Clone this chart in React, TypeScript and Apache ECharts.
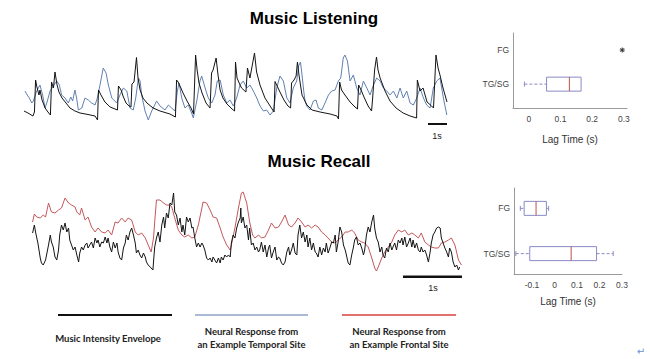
import React, { useEffect, useRef } from "react";
import * as echarts from "echarts";

// ---------- Music Listening (time in s, amplitude in a.u.) ----------
const listeningEnvelope: number[][] = [
  [0, 11], [0.21, 9], [0.47, 6], [0.55, 10], [0.61, 42], [0.68, 35], [0.79, 27], [0.84, 32], [0.95, 22], [1.11, 14],
  [1.26, 10], [1.39, 7], [1.45, 40], [1.55, 34], [1.63, 50], [1.74, 37], [1.84, 30], [2.0, 24], [2.21, 19], [2.42, 14],
  [2.68, 11], [2.95, 9], [3.37, 7.5], [3.74, 6], [3.87, 2], [3.92, 32], [4.05, 27], [4.26, 20], [4.53, 15], [4.79, 13],
  [4.92, 12], [4.97, 36], [5.11, 32], [5.21, 26], [5.37, 19], [5.53, 16], [5.63, 15], [5.68, 38], [5.79, 40], [5.92, 64.5],
  [6.0, 44], [6.11, 32], [6.26, 24], [6.47, 19], [6.79, 14], [7.16, 11], [7.68, 8], [7.97, 5], [8.03, 42], [8.11, 40],
  [8.21, 36], [8.37, 29], [8.58, 21], [8.79, 14], [8.92, 8], [9.03, 67], [9.11, 52], [9.21, 39], [9.37, 29], [9.58, 19],
  [9.79, 14], [9.87, 49], [9.95, 52], [10.11, 64], [10.21, 47], [10.32, 32], [10.47, 24], [10.68, 18], [10.95, 13], [11.08, 11],
  [11.13, 60], [11.21, 44], [11.37, 37], [11.45, 34], [11.68, 30], [11.76, 54], [11.89, 44], [12.13, 69], [12.24, 50], [12.42, 37],
  [12.68, 24], [12.95, 16], [13.16, 10], [13.21, 40.5], [13.32, 36], [13.47, 30], [13.68, 22], [13.89, 16], [14.03, 14], [14.08, 39],
  [14.21, 42], [14.32, 46], [14.39, 60], [14.47, 47], [14.63, 27], [14.89, 17], [15.16, 12], [15.58, 10], [16.11, 8], [16.47, 6],
  [16.55, 3], [16.61, 40], [16.71, 32], [16.89, 27], [17.16, 20], [17.42, 15], [17.55, 13], [17.61, 37], [17.74, 32], [17.89, 25],
  [18.11, 16], [18.29, 11], [18.34, 22], [18.45, 52], [18.55, 65], [18.63, 52], [18.74, 44], [19.0, 31], [19.26, 21], [19.58, 14],
  [19.95, 9], [20.32, 6], [20.66, 4], [20.7, 42], [20.84, 31], [21.0, 34], [21.21, 20], [21.45, 16], [21.55, 14], [21.68, 67],
  [21.79, 54], [21.89, 47], [22.05, 34], [22.26, 20],
];

const listeningTemporal: number[][] = [
  [0.05, 31], [0.17, 27], [0.28, 24], [0.41, 19], [0.49, 21], [0.67, 31], [0.84, 37], [0.98, 27], [1.11, 14], [1.23, 21],
  [1.37, 31], [1.54, 36], [1.72, 41], [1.86, 37], [1.98, 27], [2.16, 24], [2.33, 19], [2.46, 25], [2.56, 21], [2.68, 32],
  [2.77, 24], [2.86, 12], [3.04, 14], [3.21, 24], [3.38, 22], [3.56, 19], [3.74, 17], [3.86, 24], [4.0, 37], [4.17, 54],
  [4.32, 49], [4.44, 37], [4.62, 24], [4.88, 19], [5.05, 27], [5.23, 34], [5.41, 31], [5.58, 14], [5.75, 12], [5.88, 24],
  [6.02, 44], [6.11, 41], [6.19, 27], [6.37, 11], [6.54, 2], [6.72, 11], [6.98, 21], [7.16, 16], [7.42, 12], [7.6, 17],
  [7.77, 14], [7.95, 11], [8.07, 31], [8.16, 39], [8.3, 24], [8.47, 14], [8.65, 17], [8.82, 9], [8.91, 4], [9.09, 21],
  [9.26, 41], [9.35, 46], [9.53, 34], [9.7, 24], [9.88, 19], [10.05, 27], [10.17, 41], [10.32, 42], [10.49, 27], [10.67, 19],
  [10.84, 22], [11.02, 16], [11.19, 24], [11.37, 37], [11.54, 41], [11.72, 34], [11.89, 37], [12.07, 31], [12.25, 24], [12.42, 16],
  [12.6, 11], [12.77, 12], [12.95, 7], [13.12, 11], [13.3, 34], [13.47, 46], [13.65, 41], [13.83, 24], [14.0, 19], [14.17, 34],
  [14.35, 41], [14.45, 56], [14.55, 60], [14.63, 47], [14.72, 31], [14.79, 21], [14.88, 16], [15.05, 12], [15.23, 21], [15.37, 22],
  [15.49, 14], [15.67, 12], [15.84, 19], [16.02, 27], [16.19, 31], [16.37, 32], [16.54, 41], [16.67, 44], [16.8, 64], [16.89, 67],
  [17.02, 61], [17.16, 41], [17.33, 47], [17.51, 34], [17.68, 27], [17.86, 41], [18.04, 34], [18.21, 27], [18.39, 37], [18.56, 44],
  [18.74, 41], [18.91, 34], [19.09, 31], [19.26, 27], [19.44, 31], [19.62, 24], [19.79, 34], [19.96, 24], [20.14, 31], [20.32, 19],
  [20.49, 17], [20.67, 24], [20.84, 34], [21.02, 24], [21.19, 17], [21.37, 14], [21.54, 34], [21.72, 41], [21.89, 44], [22.07, 24],
  [22.25, 7],
];

// ---------- Music Recall (time in s, amplitude in a.u.) ----------
const recallEnvelope: number[][] = [
  [0.01, 40], [0.04, 48], [0.06, 41], [0.1, 30], [0.14, 15], [0.16, 10], [0.19, 8], [0.23, 13], [0.28, 28], [0.31, 38],
  [0.33, 31], [0.36, 26], [0.39, 16], [0.42, 13], [0.45, 23], [0.47, 38], [0.5, 48], [0.53, 43], [0.56, 50], [0.59, 41],
  [0.62, 45], [0.64, 33], [0.67, 28], [0.7, 23], [0.73, 26], [0.76, 18], [0.79, 11], [0.81, 20], [0.84, 26], [0.87, 23],
  [0.9, 28], [0.93, 30], [0.95, 25], [0.98, 28], [1.01, 31], [1.04, 25], [1.07, 35], [1.1, 30], [1.12, 33], [1.15, 26],
  [1.18, 31], [1.21, 30], [1.24, 36], [1.27, 30], [1.29, 35], [1.32, 26], [1.35, 21], [1.38, 31], [1.41, 25], [1.44, 30],
  [1.46, 21], [1.49, 15], [1.52, 13], [1.55, 25], [1.58, 30], [1.6, 38], [1.63, 33], [1.66, 41], [1.69, 45], [1.72, 38],
  [1.75, 30], [1.77, 20], [1.8, 23], [1.83, 18], [1.86, 15], [1.89, 20], [1.92, 16], [1.94, 11], [1.97, 8], [2.02, 5],
  [2.05, 3], [2.06, 11], [2.08, 26], [2.11, 35], [2.14, 41], [2.17, 31], [2.2, 48], [2.23, 56], [2.25, 45], [2.28, 60],
  [2.31, 55], [2.34, 70], [2.37, 68], [2.4, 80], [2.42, 61], [2.45, 58], [2.48, 48], [2.51, 55], [2.54, 41], [2.56, 48],
  [2.59, 38], [2.62, 56], [2.65, 51], [2.68, 55], [2.71, 45], [2.73, 46], [2.76, 35], [2.79, 26], [2.82, 30], [2.85, 26],
  [2.88, 30], [2.9, 28], [2.93, 23], [2.96, 15], [2.99, 13], [3.02, 15], [3.05, 11], [3.07, 16], [3.1, 13], [3.13, 10],
  [3.16, 15], [3.19, 10], [3.21, 16], [3.24, 13], [3.27, 18], [3.3, 16], [3.33, 18], [3.36, 16], [3.38, 30], [3.41, 38],
  [3.44, 35], [3.47, 45], [3.5, 51], [3.53, 55], [3.54, 65], [3.55, 50], [3.58, 56], [3.61, 45], [3.64, 48], [3.67, 33],
  [3.69, 45], [3.72, 28], [3.75, 30], [3.78, 23], [3.81, 26], [3.84, 21], [3.86, 23], [3.89, 31], [3.92, 21], [3.95, 28],
  [3.98, 16], [4.01, 25], [4.03, 28], [4.06, 15], [4.09, 21], [4.12, 26], [4.15, 13], [4.18, 16], [4.2, 15], [4.23, 10],
  [4.26, 8], [4.29, 11], [4.32, 21], [4.35, 26], [4.37, 18], [4.4, 23], [4.43, 30], [4.46, 20], [4.49, 18], [4.51, 38],
  [4.54, 48], [4.57, 35], [4.6, 41], [4.63, 31], [4.66, 38], [4.68, 26], [4.71, 35], [4.74, 23], [4.77, 30], [4.8, 21],
  [4.82, 20], [4.85, 16], [4.88, 26], [4.91, 18], [4.94, 25], [4.97, 21], [4.99, 30], [5.02, 20], [5.05, 25], [5.08, 31],
  [5.11, 30], [5.14, 38], [5.16, 21], [5.19, 31], [5.22, 46], [5.25, 41], [5.28, 28], [5.31, 23], [5.33, 18], [5.36, 10],
  [5.39, 8], [5.42, 18], [5.45, 26], [5.47, 33], [5.5, 36], [5.53, 28], [5.56, 30], [5.59, 25], [5.62, 18], [5.64, 23],
  [5.67, 38], [5.7, 46], [5.73, 41], [5.76, 51], [5.79, 58], [5.81, 45], [5.84, 35], [5.87, 31], [5.9, 21], [5.93, 26],
  [5.95, 18], [5.98, 15], [6.01, 25], [6.04, 21], [6.07, 30], [6.1, 23], [6.12, 26], [6.15, 30], [6.18, 23], [6.21, 33],
  [6.24, 30], [6.27, 35], [6.29, 28], [6.32, 36], [6.35, 26], [6.38, 30], [6.41, 35], [6.44, 26], [6.46, 33], [6.49, 25],
  [6.52, 30], [6.55, 23], [6.58, 21], [6.6, 26], [6.63, 21], [6.66, 23], [6.69, 18], [6.72, 11], [6.75, 21], [6.77, 30],
  [6.8, 38], [6.83, 41], [6.86, 45], [6.89, 46], [6.92, 45], [6.94, 35], [6.97, 30], [7.0, 25], [7.03, 21], [7.06, 16],
  [7.08, 25], [7.11, 21], [7.14, 11], [7.17, 6], [7.2, 8], [7.23, 3], [7.25, 6],
];

const recallFrontal: number[][] = [
  [0.01, 51], [0.04, 59], [0.08, 56], [0.14, 55], [0.19, 58], [0.23, 56], [0.28, 70], [0.33, 61], [0.39, 60], [0.45, 63],
  [0.5, 65], [0.56, 75], [0.62, 70], [0.67, 68], [0.73, 66], [0.76, 61], [0.81, 58], [0.84, 65], [0.9, 53], [0.95, 56],
  [1.01, 46], [1.07, 41], [1.12, 45], [1.18, 41], [1.24, 40], [1.29, 43], [1.35, 38], [1.41, 51], [1.46, 50], [1.52, 55],
  [1.58, 51], [1.63, 55], [1.69, 53], [1.75, 41], [1.8, 38], [1.86, 40], [1.92, 35], [1.97, 28], [2.02, 21], [2.06, 35],
  [2.08, 51], [2.11, 73], [2.17, 73], [2.23, 70], [2.28, 68], [2.34, 68], [2.37, 66], [2.42, 55], [2.48, 43], [2.54, 38],
  [2.59, 36], [2.65, 38], [2.71, 35], [2.76, 36], [2.82, 48], [2.88, 65], [2.9, 71], [2.96, 70], [3.02, 63], [3.07, 56],
  [3.13, 55], [3.19, 45], [3.24, 36], [3.3, 28], [3.36, 23], [3.38, 28], [3.44, 45], [3.5, 65], [3.55, 80], [3.58, 81],
  [3.64, 70], [3.69, 51], [3.74, 38], [3.78, 35], [3.84, 38], [3.89, 35], [3.95, 36], [4.01, 43], [4.06, 50], [4.12, 45],
  [4.18, 46], [4.23, 51], [4.29, 58], [4.35, 48], [4.4, 46], [4.46, 50], [4.51, 55], [4.57, 51], [4.63, 46], [4.68, 48],
  [4.74, 45], [4.8, 48], [4.85, 46], [4.91, 41], [4.97, 38], [5.02, 35], [5.08, 31], [5.14, 30], [5.19, 33], [5.25, 36],
  [5.31, 41], [5.36, 41], [5.42, 43], [5.47, 40], [5.53, 33], [5.59, 31], [5.64, 30], [5.7, 26], [5.76, 15], [5.81, 5],
  [5.84, 2], [5.87, 6], [5.93, 15], [5.98, 21], [6.04, 26], [6.1, 31], [6.15, 38], [6.21, 43], [6.27, 41], [6.32, 43],
  [6.38, 38], [6.44, 40], [6.49, 38], [6.55, 35], [6.6, 40], [6.66, 31], [6.72, 28], [6.77, 26], [6.83, 25], [6.89, 25],
  [6.94, 30], [7.0, 31], [7.06, 33], [7.11, 35], [7.17, 28], [7.23, 13], [7.28, 8],
];

// ---------- Lag time box plots (s): [min, Q1, median, Q3, max] ----------
const boxCategories = ["TG/SG", "FG"];
const listeningTGSG = [-0.014, 0.056, 0.128, 0.165, 0.165];
const listeningFGOutliers = [0.295];
const recallTGSG = [-0.172, -0.11, 0.074, 0.187, 0.261];
const recallFG = [-0.152, -0.135, -0.082, -0.036, -0.026];

const listeningTicks = [0, 0.1, 0.2, 0.3];
const recallTicks = [-0.1, 0, 0.1, 0.2, 0.3];

const listeningDuration = 22.26;
const recallDuration = 7.29;
const scaleBarSeconds = 1;

const legendLabels = [
  ["Music Intensity Envelope"],
  ["Neural Response from", "an Example Temporal Site"],
  ["Neural Response from", "an Example Frontal Site"],
];

const ENVELOPE = "#141414";
const TEMPORAL = "#6080b2";
const FRONTAL = "#c4585a";
const BOX = "#8a8ac4";
const MEDIAN = "#c0504d";
const AXIS = "#9a9a9a";
const FONT = "'Liberation Sans', Arial, sans-serif";

function boxRender(params: any, api: any) {
  const pos = api.value(0);
  const lo = api.value(1), q1 = api.value(2), med = api.value(3), q3 = api.value(4), hi = api.value(5);
  const c = (v: number) => api.coord([v, pos]);
  const y = c(med)[1];
  const h = 7;
  const cap = 2.5;
  const children: any[] = [];
  const dash = { stroke: BOX, lineWidth: 1, lineDash: [3, 2] };
  const solid = { stroke: BOX, lineWidth: 1 };
  if (lo < q1) {
    children.push({ type: "line", shape: { x1: c(lo)[0], y1: y, x2: c(q1)[0], y2: y }, style: dash });
    children.push({ type: "line", shape: { x1: c(lo)[0], y1: y - cap, x2: c(lo)[0], y2: y + cap }, style: solid });
  }
  if (hi > q3) {
    children.push({ type: "line", shape: { x1: c(q3)[0], y1: y, x2: c(hi)[0], y2: y }, style: dash });
    children.push({ type: "line", shape: { x1: c(hi)[0], y1: y - cap, x2: c(hi)[0], y2: y + cap }, style: solid });
  }
  children.push({
    type: "rect",
    shape: { x: c(q1)[0], y: y - h, width: c(q3)[0] - c(q1)[0], height: 2 * h },
    style: { fill: "none", stroke: BOX, lineWidth: 1 },
  });
  children.push({
    type: "line",
    shape: { x1: c(med)[0], y1: y - h, x2: c(med)[0], y2: y + h },
    style: { stroke: MEDIAN, lineWidth: 1 },
  });
  return { type: "group", children };
}

function outlierRender(params: any, api: any) {
  const p = api.coord([api.value(1), api.value(0)]);
  const r = 2.5;
  const st = { stroke: "#333", lineWidth: 1 };
  return {
    type: "group",
    children: [
      { type: "line", shape: { x1: p[0] - r, y1: p[1], x2: p[0] + r, y2: p[1] }, style: st },
      { type: "line", shape: { x1: p[0], y1: p[1] - r, x2: p[0], y2: p[1] + r }, style: st },
      { type: "line", shape: { x1: p[0] - r * 0.75, y1: p[1] - r * 0.75, x2: p[0] + r * 0.75, y2: p[1] + r * 0.75 }, style: st },
      { type: "line", shape: { x1: p[0] - r * 0.75, y1: p[1] + r * 0.75, x2: p[0] + r * 0.75, y2: p[1] - r * 0.75 }, style: st },
    ],
  };
}

function boxXAxis(gridIndex: number, min: number, max: number, ticks: number[], nameGap: number) {
  return {
    type: "value",
    gridIndex,
    min,
    max,
    axisLine: { show: true, onZero: false, lineStyle: { color: AXIS, width: 1 } },
    axisTick: { show: false },
    splitLine: { show: false },
    axisLabel: {
      customValues: ticks,
      formatter: (v: number) => String(Math.round(v * 10) / 10),
      fontSize: 8.5,
      color: "#444",
      fontFamily: FONT,
      margin: 6,
    },
    name: "Lag Time (s)",
    nameLocation: "middle",
    nameGap,
    nameTextStyle: { fontSize: 10, color: "#333", fontFamily: FONT },
  };
}

function boxYAxis(gridIndex: number, min: number, max: number) {
  return {
    type: "value",
    gridIndex,
    min,
    max,
    axisLine: { show: true, onZero: false, lineStyle: { color: AXIS, width: 1 } },
    axisTick: { show: false },
    splitLine: { show: false },
    axisLabel: {
      customValues: [1, 2],
      formatter: (v: number) => boxCategories[Math.round(v) - 1] ?? "",
      fontSize: 8.5,
      color: "#444",
      fontFamily: FONT,
      margin: 4,
    },
  };
}

function traceAxes(gridIndex: number, xMax: number, yMin: number, yMax: number) {
  return {
    x: { type: "value", gridIndex, min: 0, max: xMax, show: false },
    y: { type: "value", gridIndex, min: yMin, max: yMax, show: false },
  };
}

export default function App() {
  const ref = useRef<HTMLDivElement>(null);
  useEffect(() => {
    const chart = echarts.init(ref.current!, null, { renderer: "svg" });
    const topAxes = traceAxes(0, listeningDuration, -18, 72);
    const botAxes = traceAxes(2, recallDuration, -22, 88);

    const lineSeries = (data: number[][], color: string, axis: number, width: number) => ({
      type: "line",
      xAxisIndex: axis,
      yAxisIndex: axis,
      data,
      showSymbol: false,
      symbol: "none",
      lineStyle: { color, width },
      silent: true,
    });

    const legendX = [[58, 172], [195, 308], [342, 456]];
    const legendColors = ["#111", "#8ea3c6", "#d8403c"];
    const legendGraphics: any[] = [];
    legendLabels.forEach((lines, i) => {
      const [x1, x2] = legendX[i];
      legendGraphics.push({
        type: "line",
        shape: { x1, y1: 315, x2, y2: 315 },
        style: { stroke: legendColors[i], lineWidth: i === 0 ? 2.2 : 1.6 },
      });
      const cx = i === 0 ? 108 : (x1 + x2) / 2;
      lines.forEach((txt, j) => {
        const y = lines.length === 1 ? 338 : 331 + j * 13;
        legendGraphics.push({
          type: "text",
          x: cx,
          y,
          style: {
            text: txt,
            fill: "#222",
            font: "bold 9.5px Lato, 'Open Sans', sans-serif",
            textAlign: "center",
            textVerticalAlign: "middle",
          },
        });
      });
    });

    chart.setOption({
      animation: false,
      backgroundColor: "#ffffff",
      grid: [
        { left: 24, top: 50, width: 423, height: 90 },
        { left: 513, top: 33, width: 114, height: 75 },
        { left: 32, top: 185, width: 430, height: 110 },
        { left: 514, top: 188, width: 108, height: 86 },
      ],
      xAxis: [
        topAxes.x,
        boxXAxis(1, -0.05, 0.31, listeningTicks, 26),
        botAxes.x,
        boxXAxis(3, -0.18, 0.3, recallTicks, 22),
      ],
      yAxis: [topAxes.y, boxYAxis(1, 0.3, 2.5), botAxes.y, boxYAxis(3, 0.55, 2.45)],
      series: [
        lineSeries(listeningTemporal, TEMPORAL, 0, 1),
        lineSeries(listeningEnvelope, ENVELOPE, 0, 1),
        lineSeries(
          [
            [listeningDuration - scaleBarSeconds, -2],
            [listeningDuration, -2],
          ],
          "#111",
          0,
          2
        ),
        lineSeries(recallFrontal, FRONTAL, 2, 1),
        lineSeries(recallEnvelope, ENVELOPE, 2, 1),
        lineSeries(
          [
            [recallDuration - scaleBarSeconds, -3.7],
            [recallDuration, -3.7],
          ],
          "#111",
          2,
          2.4
        ),
        {
          type: "custom",
          xAxisIndex: 1,
          yAxisIndex: 1,
          renderItem: boxRender,
          encode: { x: [1, 2, 3, 4, 5], y: 0 },
          data: [[1, ...listeningTGSG]],
          silent: true,
        },
        {
          type: "custom",
          xAxisIndex: 1,
          yAxisIndex: 1,
          renderItem: outlierRender,
          encode: { x: 1, y: 0 },
          data: listeningFGOutliers.map((v) => [2, v]),
          silent: true,
        },
        {
          type: "custom",
          xAxisIndex: 3,
          yAxisIndex: 3,
          renderItem: boxRender,
          encode: { x: [1, 2, 3, 4, 5], y: 0 },
          data: [
            [1, ...recallTGSG],
            [2, ...recallFG],
          ],
          silent: true,
        },
      ],
      graphic: [
        {
          type: "text",
          x: 314,
          y: 18,
          style: { text: "Music Listening", font: `bold 17px ${FONT}`, fill: "#000", textAlign: "center", textVerticalAlign: "middle" },
        },
        {
          type: "text",
          x: 319,
          y: 161,
          style: { text: "Music Recall", font: `bold 17px ${FONT}`, fill: "#000", textAlign: "center", textVerticalAlign: "middle" },
        },
        {
          type: "text",
          x: 437,
          y: 136,
          style: { text: "1s", font: `9px ${FONT}`, fill: "#222", textAlign: "center", textVerticalAlign: "middle" },
        },
        {
          type: "text",
          x: 433,
          y: 288,
          style: { text: "1s", font: `9px ${FONT}`, fill: "#222", textAlign: "center", textVerticalAlign: "middle" },
        },
        ...legendGraphics,
        {
          type: "text",
          x: 641,
          y: 351,
          style: { text: "↵", font: "10px 'DejaVu Sans'", fill: "#6b8fd6", textAlign: "center", textVerticalAlign: "middle" },
        },
      ],
    });
    return () => chart.dispose();
  }, []);
  return <div ref={ref} style={{ position: "fixed", left: 0, top: 0, width: 650, height: 359, background: "#fff" }} />;
}
